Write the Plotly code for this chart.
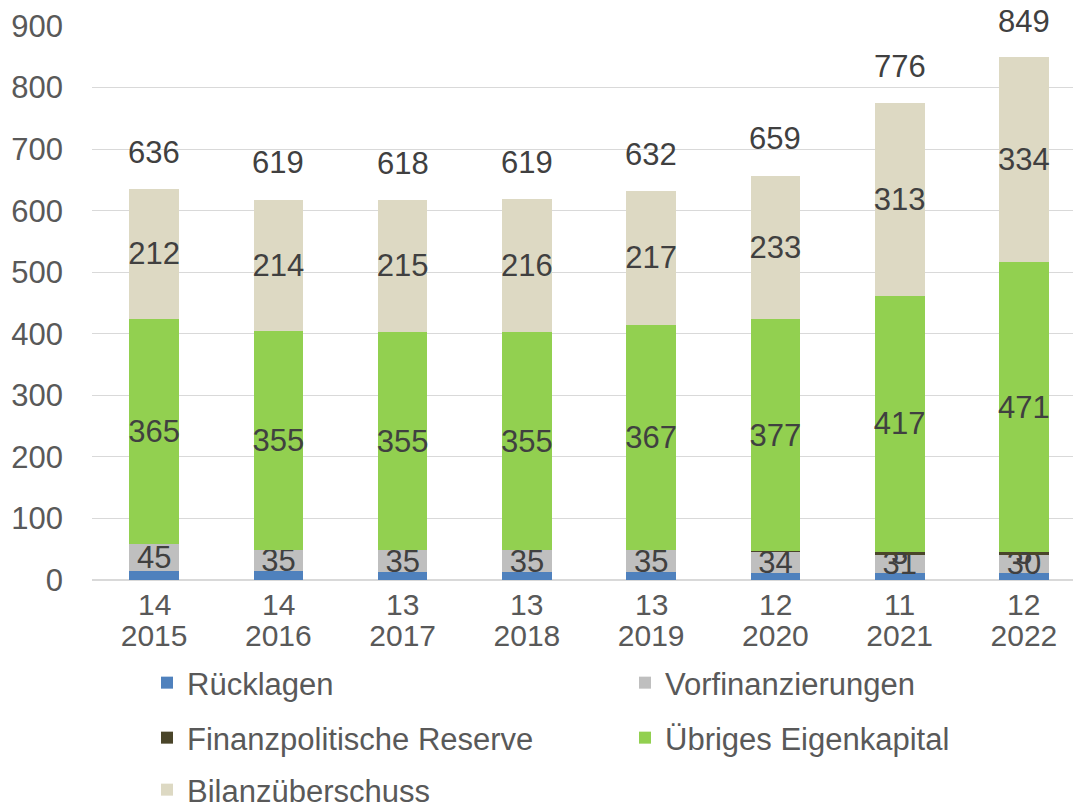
import plotly.graph_objects as go

years = ["2015", "2016", "2017", "2018", "2019", "2020", "2021", "2022"]
ruecklagen = [14, 14, 13, 13, 13, 12, 11, 12]
vorfinanzierungen = [45, 35, 35, 35, 35, 34, 31, 30]
reserve = [0, 0, 0, 0, 0, 1, 3, 3]
reserve_labels = ["", "", "", "", "", "", "3", "3"]
uebriges = [365, 355, 355, 355, 367, 377, 417, 471]
bilanz = [212, 214, 215, 216, 217, 233, 313, 334]
totals = [636, 619, 618, 619, 632, 659, 776, 849]

FONT = "Liberation Sans, Arial, sans-serif"
LBL = "#404040"
TICK = "#595959"
FS = 31

x = list(range(len(years)))

fig = go.Figure()
common = dict(x=x, width=0.4, marker_line_width=0, textposition="inside",
              insidetextanchor="middle", constraintext="none", textangle=0,
              insidetextfont=dict(family=FONT, size=FS, color=LBL), hoverinfo="skip",
              showlegend=True)

fig.add_trace(go.Bar(name="Rücklagen", y=ruecklagen, marker_color="#4f81bd",
                     legend="legend", **common))
fig.add_trace(go.Bar(name="Vorfinanzierungen", y=vorfinanzierungen, marker_color="#bfbfbf",
                     text=[str(v) for v in vorfinanzierungen], legend="legend2", **common))
fig.add_trace(go.Bar(name="Finanzpolitische Reserve", y=reserve, marker_color="#4a452a",
                     text=reserve_labels, legend="legend3", **common))
fig.add_trace(go.Bar(name="Übriges Eigenkapital", y=uebriges, marker_color="#92d050",
                     text=[str(v) for v in uebriges], legend="legend4", **common))
fig.add_trace(go.Bar(name="Bilanzüberschuss", y=bilanz, marker_color="#ddd9c3",
                     text=[str(v) for v in bilanz], legend="legend5", **common))

# totals above each bar
for xi, t in zip(x, totals):
    fig.add_annotation(x=xi, y=t, text=str(t), showarrow=False, yanchor="middle",
                       yshift=36, font=dict(family=FONT, size=FS, color=LBL))
# Rücklagen values shown just below the axis
for xi, r in zip(x, ruecklagen):
    fig.add_annotation(x=xi, y=0, text=str(r), showarrow=False, yanchor="middle",
                       yshift=-24, font=dict(family=FONT, size=30, color=TICK))

def px_x(p):
    return (p - 92) / 981

def cy(p):
    return 1 - p / 803

leg = dict(orientation="v", xanchor="left", yanchor="middle", yref="container",
           font=dict(family=FONT, size=FS, color=TICK), bgcolor="rgba(0,0,0,0)",
           borderwidth=0)
c1, c2 = px_x(147), px_x(625)
fig.update_layout(
    width=1073, height=803,
    margin=dict(l=92, r=0, t=26, b=223),
    paper_bgcolor="white", plot_bgcolor="white",
    barmode="stack", showlegend=True,
    font=dict(family=FONT, size=FS, color=TICK),
    legend=dict(x=c1, y=cy(683), **leg),
    legend2=dict(x=c2, y=cy(683), **leg),
    legend3=dict(x=c1, y=cy(738), **leg),
    legend4=dict(x=c2, y=cy(738), **leg),
    legend5=dict(x=c1, y=cy(790), **leg),
    xaxis=dict(tickmode="array", tickvals=x, ticktext=years, range=[-0.5, 7.395],
               showgrid=False, showline=False, zeroline=False, ticks="",
               ticklabelstandoff=35, automargin=False,
               tickfont=dict(family=FONT, size=30, color=TICK)),
    yaxis=dict(range=[0, 900], dtick=100, showgrid=True, gridcolor="#d9d9d9", gridwidth=1,
               zeroline=True, zerolinecolor="#d9d9d9", zerolinewidth=2, showline=False,
               ticks="", ticklabelstandoff=28, automargin=False,
               tickfont=dict(family=FONT, size=FS, color=TICK)),
)

fig.write_html("out.html", config={"displayModeBar": False},
               post_script="document.body.style.margin='0';document.body.style.overflow='hidden';")
